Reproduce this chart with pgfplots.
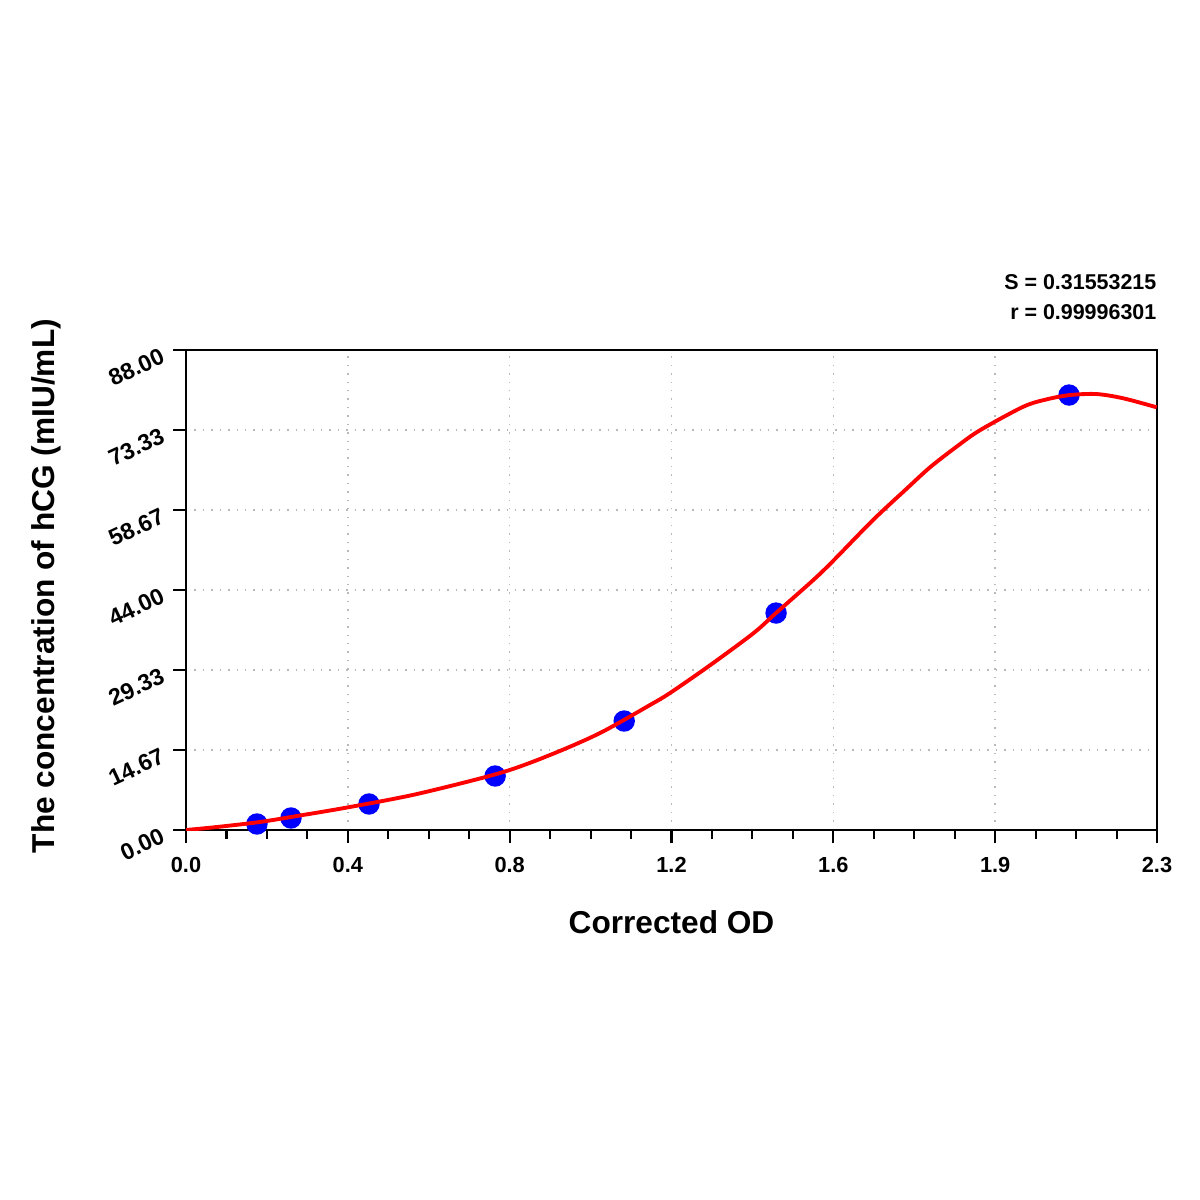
\documentclass[border=0pt]{standalone}
\usepackage{fontspec}
\setmainfont{Liberation Sans}
\usepackage{pgfplots}
\pgfplotsset{compat=1.18}

\begin{document}
\begin{tikzpicture}[x=1cm,y=1cm]
\useasboundingbox[fill=white] (0,0) rectangle (12,12);

\begin{axis}[
  at={(1.86cm,3.70cm)},
  anchor=south west,
  scale only axis,
  width=9.71cm,
  height=4.80cm,
  xmin=0, xmax=2.34,
  ymin=0, ymax=88,
  xtick={0,0.39,0.78,1.17,1.56,1.95,2.34},
  xticklabels={0.0,0.4,0.8,1.2,1.6,1.9,2.3},
  ytick={0,14.6667,29.3333,44,58.6667,73.3333,88},
  yticklabels={0.00,14.67,29.33,44.00,58.67,73.33,88.00},
  minor x tick num=3,
  minor y tick num=3,
  tick align=outside,
  major tick length=0.13cm,
  minor tick length=0.09cm,
  tick style={black, line width=0.6pt},
  axis line style={line width=0.6pt},
  xtick pos=bottom,
  ytick pos=left,
  grid=major,
  major grid style={gray!55, dotted, line width=0.4pt},
  ticklabel style={font=\fontsize{6.2}{7}\selectfont\bfseries},
  xticklabel style={yshift=-0.02cm},
  yticklabel style={font=\fontsize{6.6}{7}\selectfont\bfseries, rotate=25, anchor=east, xshift=0.01cm},
  xlabel={Corrected OD},
  ylabel={The concentration of hCG (mIU/mL)},
  label style={font=\fontsize{9}{10}\selectfont\bfseries},
  xlabel style={at={(axis description cs:0.5,-0.2146)}, anchor=base},
  ylabel style={at={(axis description cs:-0.1442,0.508)}, anchor=center, rotate=0},
  clip mode=individual,
]

% standards
\addplot[only marks, mark=*, mark size=0.1cm, blue, mark options={draw=blue, fill=blue}] table {
  x      y
  0.171  1.10
  0.253  2.20
  0.441  4.77
  0.745  9.90
  1.056  19.98
  1.422  39.78
  2.128  79.75
};

% fitted curve
\addplot[red, line width=1.1pt, smooth, no marks] table {
  x       y
  0.0000  0.00
  0.0747  0.55
  0.1783  1.47
  0.2747  2.66
  0.3952  4.22
  0.5567  6.60
  0.7567  10.45
  0.8772  13.75
  0.9977  17.78
  1.1182  22.92
  1.1664  25.12
  1.2628  30.20
  1.3671  36.06
  1.4211  39.73
  1.5117  45.83
  1.5592  49.32
  1.6556  56.83
  1.7327  62.30
  1.7930  66.50
  1.8573  70.30
  1.9134  73.30
  2.0178  77.61
  2.0742  78.96
  2.1303  79.75
  2.1947  79.93
  2.2588  79.15
  2.3393  77.50
};

\node[anchor=base east, font=\fontsize{6.1}{7}\selectfont\bfseries, inner sep=0pt]
  at (axis description cs:1,1.127) {S = 0.31553215};
\node[anchor=base east, font=\fontsize{6.1}{7}\selectfont\bfseries, inner sep=0pt]
  at (axis description cs:1,1.0646) {r = 0.99996301};
\end{axis}
\end{tikzpicture}
\end{document}
